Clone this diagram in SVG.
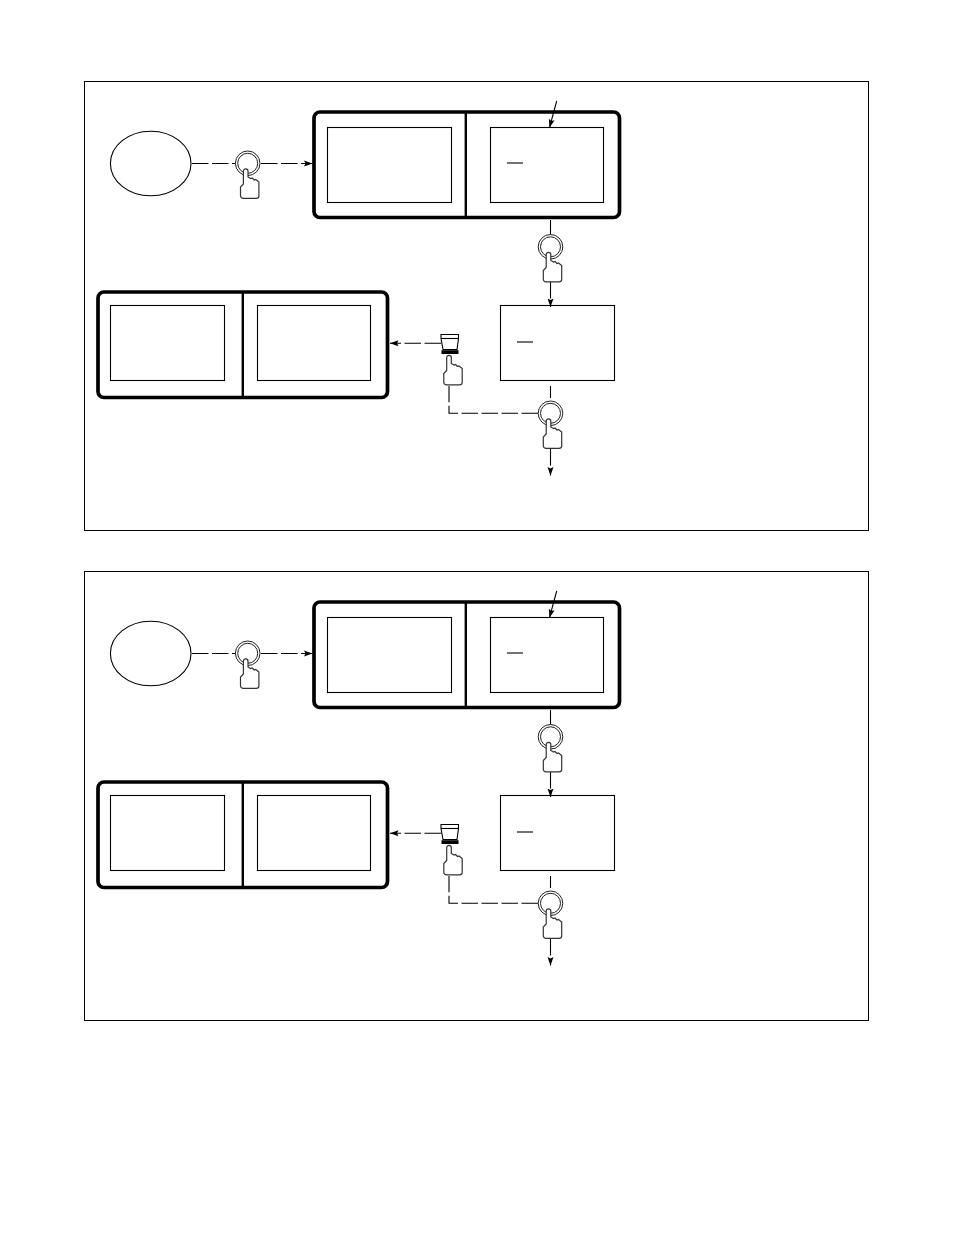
<svg xmlns="http://www.w3.org/2000/svg" width="954" height="1235" viewBox="0 0 954 1235">
<style>
.f{fill:#fff;stroke:#000;stroke-width:1.1}
.d{fill:#fff;stroke:#000;stroke-width:3.700}
.dv{fill:none;stroke:#000;stroke-width:2.400}
.c{fill:none;stroke:#000;stroke-width:1.100;stroke-dasharray:16.500 3.500}
.s{fill:none;stroke:#000;stroke-width:1.100}
.h{fill:#fff;stroke:#333;stroke-width:1.200}
.r{fill:#fff;stroke:#222;stroke-width:1}
</style>
<defs>
<marker id="a" markerUnits="userSpaceOnUse" markerWidth="10" markerHeight="8" refX="8.500" refY="4" orient="auto"><path d="M0 1L8.500 4L0 7L1.500 4Z" fill="#000"/></marker>
<path id="hand" class="h" d="M-2.300 2C-2.300-.8 2.300-.8 2.300 2V8L5 9.500L6.500 9L8.500 11L10 10.500L13.200 13V27C13.200 28.500 12 29.300 10.500 29.300H-2.500C-4 29.300-5.200 28.300-5.200 26.800V18L-2.300 15Z"/>
<g id="btn"><circle class="r" r="12.300"/><circle class="r" r="10"/><use href="#hand" x="-2" y="5.700"/></g>
<g id="panel">
<rect x="84.500" y="81.500" width="784" height="449" fill="#fff" stroke="#000" stroke-width="1"/>
<g class="oval"><ellipse class="f" cx="150.700" cy="163.500" rx="40.300" ry="32.300"/></g>
<g class="disp1">
<rect class="d" x="314" y="112" width="305.500" height="105.500" rx="6"/>
<path class="dv" d="M465.800 112V217.500"/>
<rect class="f" x="327.500" y="127.500" width="124" height="75"/>
<rect class="f" x="490.500" y="127.500" width="113" height="75"/>
<path class="s" d="M507 163H523"/>
</g>
<g class="box">
<rect class="f" x="500.500" y="305.500" width="114" height="75"/>
<path class="s" d="M517 342H533"/>
</g>
<g class="disp2">
<rect class="d" x="98" y="292" width="289.500" height="105.500" rx="6"/>
<path class="dv" d="M242.800 292V397.500"/>
<rect class="f" x="110.500" y="305.500" width="114" height="75"/>
<rect class="f" x="257.500" y="305.500" width="113" height="75"/>
</g>
<g class="connectors">
<path class="c" d="M192 163.500H236"/>
<path class="c" d="M261 163.500H312.500" marker-end="url(#a)"/>
<path class="s" d="M556.700 101L549.500 127.700" marker-end="url(#a)"/>
<path class="s" d="M550.500 220V236"/>
<path class="c" d="M550.500 282V307" marker-end="url(#a)"/>
<path class="s" d="M550.500 386V398"/>
<path class="c" d="M550.500 449V475.500" marker-end="url(#a)"/>
<path class="c" d="M538 413.300H449V386"/>
<path class="c" d="M441 343.300H390" marker-end="url(#a)"/>
</g>
<g class="b1"><use href="#btn" x="247.700" y="163.300"/></g>
<g class="b2"><use href="#btn" x="550.500" y="246.800"/></g>
<g class="b3"><use href="#btn" x="550.500" y="413.300"/></g>
<g class="key">
<path fill="#fff" stroke="#000" stroke-width="1.100" d="M441 334.500H458.500V338.500L457 349.500H443L441 338.500Z"/>
<path class="s" d="M441 338.500H458.500"/>
<rect x="441.500" y="350.200" width="17" height="3.800" fill="#000"/>
<use href="#hand" x="449" y="355.500"/>
</g>
</g>
</defs>
<g id="panel-top"><use href="#panel"/></g>
<g id="panel-bottom"><use href="#panel" y="490"/></g>
</svg>
